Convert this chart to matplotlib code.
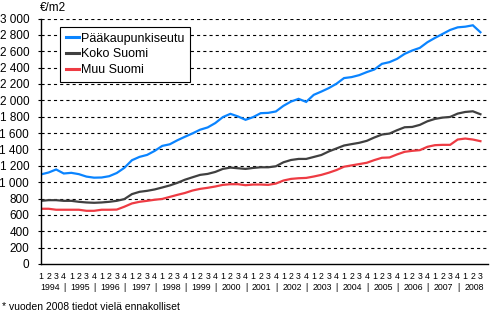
import matplotlib
matplotlib.use("Agg")
import matplotlib.pyplot as plt
from matplotlib.ticker import FuncFormatter

plt.rcParams['font.family'] = ['Liberation Sans', 'DejaVu Sans']

years = list(range(1994, 2009))
quarter_labels = ['1', '2', '3', '4'] * 14 + ['1', '2', '3']

paakaupunkiseutu = [1095, 1118, 1155, 1106, 1114, 1098, 1068, 1055, 1057, 1073, 1112, 1175,
                    1268, 1309, 1333, 1382, 1443, 1463, 1512, 1555, 1596, 1641, 1669, 1722,
                    1795, 1835, 1803, 1762, 1795, 1843, 1847, 1864, 1933, 1985, 2018, 1981,
                    2067, 2107, 2150, 2203, 2272, 2284, 2308, 2345, 2377, 2446, 2467, 2507,
                    2568, 2609, 2641, 2710, 2763, 2811, 2860, 2892, 2900, 2917, 2832]
koko_suomi = [772, 780, 780, 772, 772, 760, 752, 748, 752, 760, 772, 793,
              854, 882, 894, 911, 935, 960, 992, 1030, 1060, 1089, 1101, 1125,
              1162, 1178, 1170, 1162, 1174, 1182, 1182, 1194, 1243, 1271, 1284, 1284,
              1308, 1332, 1376, 1412, 1448, 1465, 1481, 1505, 1546, 1582, 1594, 1635,
              1671, 1675, 1700, 1744, 1773, 1789, 1797, 1838, 1858, 1866, 1830]
muu_suomi = [675, 675, 663, 663, 663, 663, 650, 650, 663, 663, 665, 700,
             740, 760, 772, 785, 795, 820, 845, 868, 898, 918, 931, 947,
             967, 975, 975, 963, 971, 971, 967, 983, 1020, 1040, 1048, 1052,
             1069, 1089, 1116, 1148, 1189, 1205, 1221, 1237, 1270, 1298, 1302, 1339,
             1371, 1383, 1391, 1432, 1452, 1456, 1456, 1521, 1533, 1521, 1501]

series_names = ['Pääkaupunkiseutu', 'Koko Suomi', 'Muu Suomi']
series_colors = ['#0A84FF', '#404040', '#EE3B43']

W, H = 494, 322
fig = plt.figure(figsize=(W / 100, H / 100), dpi=100)
L, R, T, B = 41, 488, 18.5, 264
ax = fig.add_axes([L / W, 1 - B / H, (R - L) / W, (B - T) / H])

x = list(range(len(paakaupunkiseutu)))
for vals, name, col in zip([paakaupunkiseutu, koko_suomi, muu_suomi], series_names, series_colors):
    ax.plot(x, vals, color=col, lw=1.6, label=name, solid_joinstyle='miter')

ax.set_xlim(0, 59)
ax.set_ylim(0, 3000)
ax.set_yticks(range(0, 3001, 200))
ax.yaxis.set_major_formatter(FuncFormatter(lambda v, p: f"{int(v):,}".replace(',', ' ')))
ax.tick_params(axis='y', length=2.5, width=0.8, pad=6, labelsize=8.5, direction='out')
ax.set_xticks([])
for s in ['top', 'right']:
    ax.spines[s].set_visible(False)
for s in ['left', 'bottom']:
    ax.spines[s].set_linewidth(1.0)
    ax.spines[s].set_color('black')
for v in range(200, 3001, 200):
    ax.axhline(v, color='black', lw=0.8, ls=(0, (2.8, 2.8)), zorder=0)

def px(xp, yp):
    return xp / W, 1 - yp / H

step = (R - L) / 59
for i, q in enumerate(quarter_labels):
    fig.text(*px(L + step * i, 276.5), q, ha='center', va='center', fontsize=6.3)
for k, yr in enumerate(years):
    i0 = 4 * k
    fig.text(*px(L + step * (i0 + 1.15), 287), str(yr), ha='center', va='center', fontsize=6.3)
    if yr != years[-1]:
        fig.text(*px(L + step * (i0 + 3.05), 287), '|', ha='center', va='center', fontsize=6.3)

fig.text(*px(40, 8), '€/m2', ha='left', va='center', fontsize=8.5)
fig.text(*px(2, 307), '* vuoden 2008 tiedot vielä ennakolliset', ha='left', va='center', fontsize=7.5)

leg = ax.legend(loc='upper left', bbox_to_anchor=((60 - L) / (R - L), (B - 27) / (B - T)),
                fontsize=9, frameon=True, fancybox=False, edgecolor='black', framealpha=1,
                handlelength=1.1, handletextpad=0.15, labelspacing=0.3, borderpad=0.45,
                borderaxespad=0)
leg.get_frame().set_linewidth(0.8)
for line in leg.get_lines():
    line.set_linewidth(2.2)

fig.savefig('out.png', dpi=100)
